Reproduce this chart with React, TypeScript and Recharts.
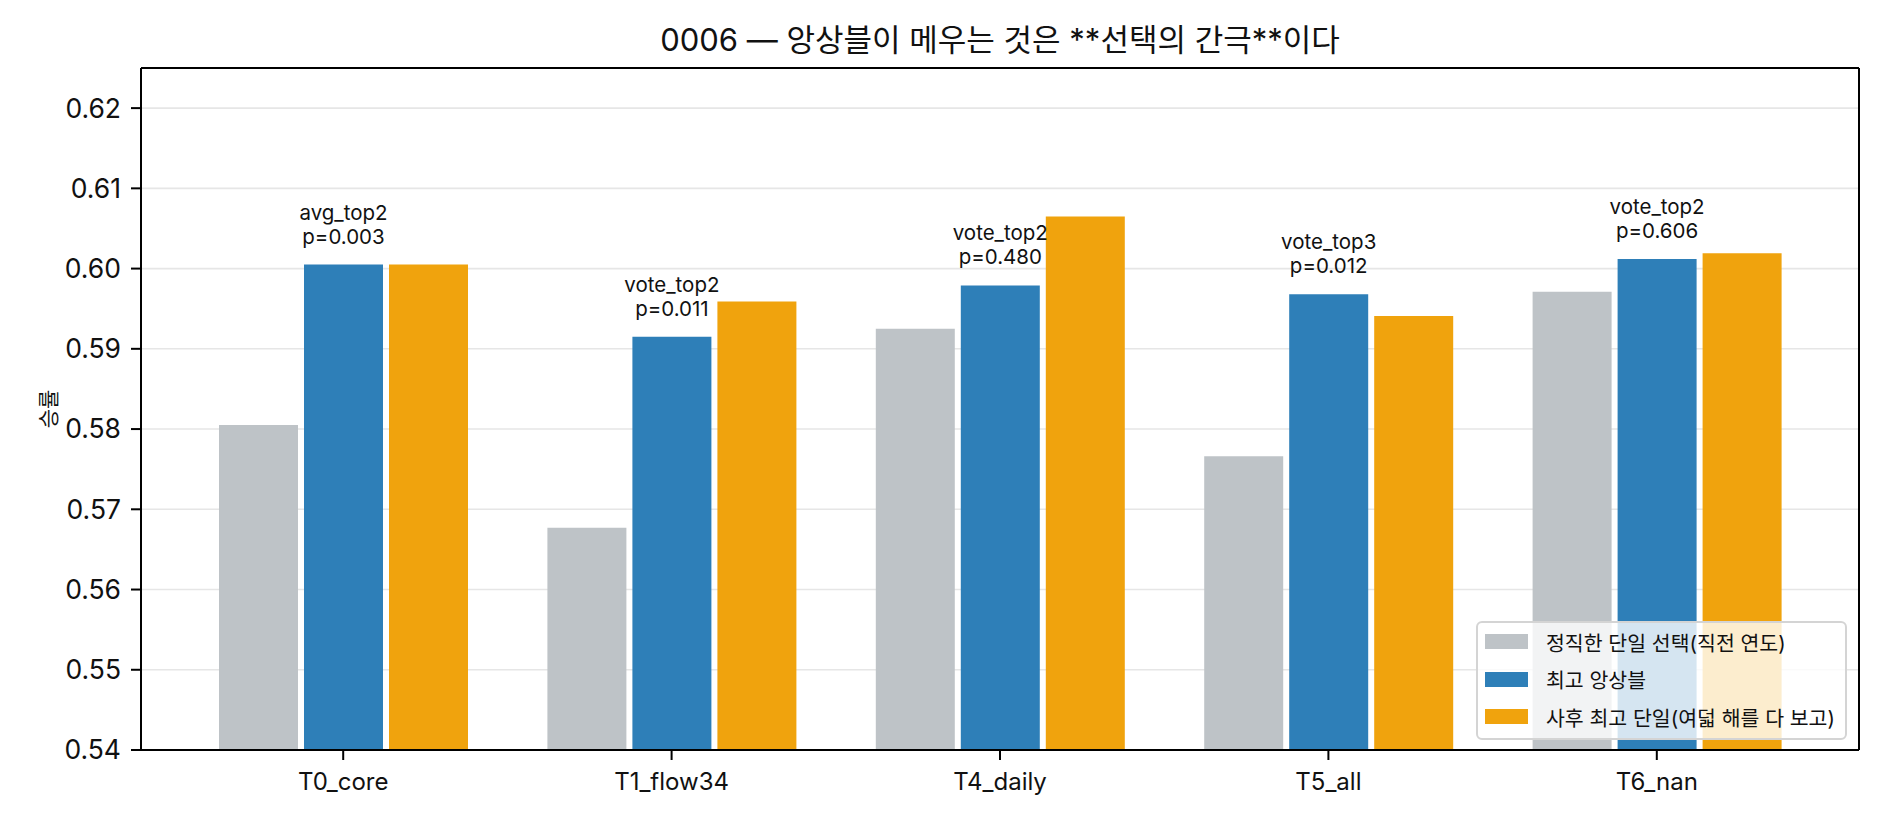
import React from 'react';
import { BarChart, Bar, XAxis, YAxis, CartesianGrid, Legend, LabelList } from 'recharts';

const categories = ['T0_core', 'T1_flow34', 'T4_daily', 'T5_all', 'T6_nan'];
const honestSingle = [0.5805, 0.5677, 0.5925, 0.5766, 0.5971];
const bestEnsemble = [0.6005, 0.5915, 0.5979, 0.5968, 0.6012];
const hindsightSingle = [0.6005, 0.5959, 0.6065, 0.5941, 0.6019];
const ensembleMethods = ['avg_top2', 'vote_top2', 'vote_top2', 'vote_top3', 'vote_top2'];
const pValues = ['p=0.003', 'p=0.011', 'p=0.480', 'p=0.012', 'p=0.606'];
const yTicks = [0.54, 0.55, 0.56, 0.57, 0.58, 0.59, 0.6, 0.61, 0.62];
const yDomain = [0.54, 0.625];

const seriesNames = ['정직한 단일 선택(직전 연도)', '최고 앙상블', '사후 최고 단일(여덟 해를 다 보고)'];
const seriesKeys = ['honest', 'ensemble', 'hindsight'];
const seriesColors = ['#BEC3C7', '#2E7FB8', '#F0A30D'];

const titleText = '0006 — 앙상블이 메우는 것은 **선택의 간극**이다';
const yLabelText = '승률';

const FONT = "Inter, 'Noto Sans CJK KR', 'Noto Sans', sans-serif";

const data = categories.map((name, i) => ({
  name,
  honest: honestSingle[i],
  ensemble: bestEnsemble[i],
  hindsight: hindsightSingle[i],
  method: ensembleMethods[i],
  pval: pValues[i],
}));

const makeAnnot = (offset: number) => (props: any) => {
  const { x, y, width, value } = props;
  return (
    <text
      x={Number(x) + Number(width) / 2}
      y={Number(y) - offset}
      textAnchor="middle"
      fontSize={20.5}
      fontFamily={FONT}
      fill="#111"
    >
      {value}
    </text>
  );
};

const renderLegend = () => (
  <div
    style={{
      boxSizing: 'border-box',
      width: 371,
      height: 119,
      background: 'rgba(255,255,255,0.8)',
      border: '2px solid #d4d4d4',
      borderRadius: 6,
      paddingTop: 0,
      fontFamily: FONT,
    }}
  >
    {seriesNames.map((n, i) => (
      <div key={n} style={{ display: 'flex', alignItems: 'center', height: 37.5 }}>
        <div style={{ width: 43, height: 15, background: seriesColors[i], marginLeft: 7, marginRight: 18, flexShrink: 0 }} />
        <span style={{ fontSize: 20.5, color: '#111', whiteSpace: 'nowrap' }}>{n}</span>
      </div>
    ))}
  </div>
);

export default function App() {
  return (
    <div style={{ position: 'absolute', left: 0, top: 0, width: 1880, height: 820, background: '#fff' }}>
      <BarChart
        width={1880}
        height={820}
        data={data}
        margin={{ top: 68, right: 21, bottom: 0, left: 0 }}
        barGap={6}
        barSize={79}
      >
        <CartesianGrid vertical={false} stroke="#e6e6e6" strokeWidth={1.6} />
        <CartesianGrid
          stroke="#000"
          strokeWidth={2}
          horizontalCoordinatesGenerator={(p: any) => [p.offset.top]}
          verticalCoordinatesGenerator={(p: any) => [p.offset.left + p.offset.width]}
        />
        <XAxis
          dataKey="name"
          height={70}
          padding={{ left: 38, right: 38 }}
          tickSize={10}
          tickMargin={13}
          tick={{ fontSize: 24, fill: '#111', fontFamily: FONT }}
          tickLine={{ stroke: '#000', strokeWidth: 2 }}
          axisLine={{ stroke: '#000', strokeWidth: 2 }}
        />
        <YAxis
          width={141}
          domain={yDomain}
          ticks={yTicks}
          allowDataOverflow
          tickFormatter={(v: number) => v.toFixed(2)}
          tickSize={10}
          tickMargin={10}
          tick={{ fontSize: 26.5, fill: '#111', fontFamily: FONT }}
          tickLine={{ stroke: '#000', strokeWidth: 2 }}
          axisLine={{ stroke: '#000', strokeWidth: 2 }}
        />
        <Legend
          layout="vertical"
          align="center"
          verticalAlign="middle"
          content={renderLegend}
          wrapperStyle={{ position: 'absolute', left: 1476, top: 621, width: 371, height: 119 }}
        />
        {seriesKeys.map((k, i) => (
          <Bar key={k} dataKey={k} name={seriesNames[i]} fill={seriesColors[i]} isAnimationActive={false}>
            {k === 'ensemble' ? <LabelList dataKey="method" content={makeAnnot(45)} /> : null}
            {k === 'ensemble' ? <LabelList dataKey="pval" content={makeAnnot(21)} /> : null}
          </Bar>
        ))}
      </BarChart>
      <svg
        width={1880}
        height={820}
        style={{ position: 'absolute', left: 0, top: 0, pointerEvents: 'none' }}
      >
        <text x={1000} y={51} textAnchor="middle" fontSize={31} fontFamily={FONT} fill="#111">
          {titleText}
        </text>
        <text
          x={0}
          y={0}
          transform="translate(56,409) rotate(-90)"
          textAnchor="middle"
          fontSize={21}
          fontFamily={FONT}
          fill="#111"
        >
          {yLabelText}
        </text>
      </svg>
    </div>
  );
}
